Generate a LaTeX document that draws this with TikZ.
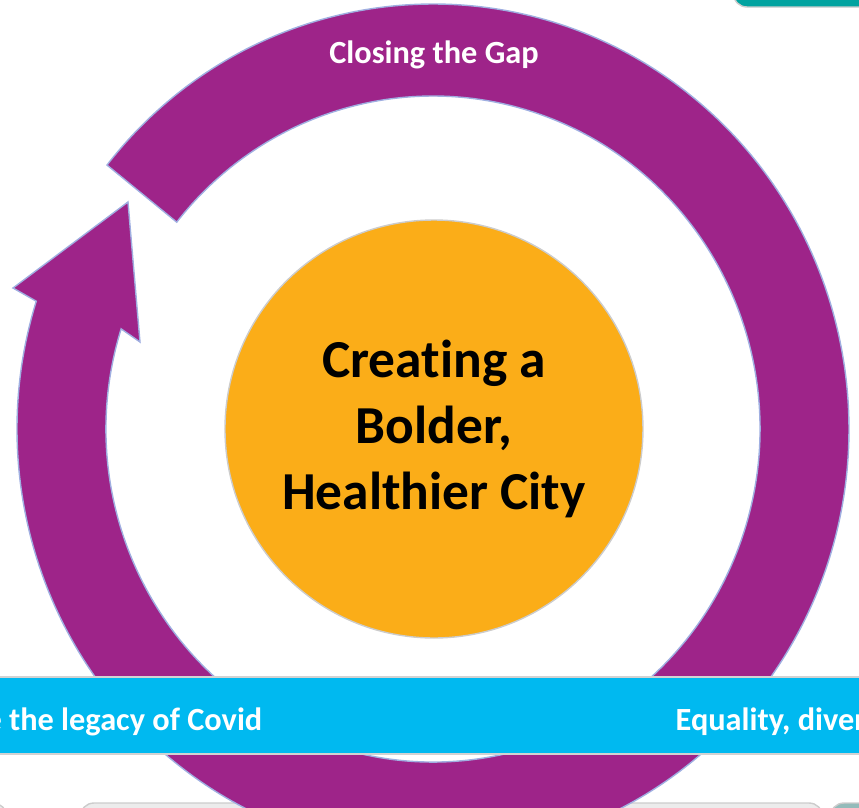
\documentclass[tikz,border=0pt]{standalone}
\usepackage{fontspec}
\setmainfont{Carlito}[Ligatures=NoCommon]

\definecolor{ringpurple}{RGB}{158,36,137}
\definecolor{huborange}{RGB}{251,173,24}
\definecolor{bandcyan}{RGB}{0,185,240}
\definecolor{boxteal}{RGB}{0,163,160}
\definecolor{edgeblue}{RGB}{160,175,225}

\begin{document}
\begin{tikzpicture}[
		labeltext/.style={text=white, font=\bfseries\fontsize{9.2}{10}\selectfont, inner sep=0pt},
		peekbox/.style={rounded corners=4pt, draw=gray!40, line width=.4pt}]
	\clip (-4.33, -3.78) rectangle (4.26, 4.29);
	
	% boxes peeking in at the corners
	\draw[peekbox, fill=boxteal] (3.00, 4.22) rectangle (4.70, 4.90);
	\draw[peekbox, fill=gray!15] (-5.00, -3.74) rectangle (-4.26, -4.40);
	\draw[peekbox, fill=gray!15] (-3.53, -3.74) rectangle (3.90, -4.40);
	\draw[peekbox, fill=boxteal!40!gray!60] (3.97, -3.74) rectangle (5.00, -4.40);
	
	% circular arrow
	\draw[fill=ringpurple, draw=edgeblue, line width=.4pt]
		(141.6:4.16 and 4.25) arc[start angle=141.6, end angle=-197.5, x radius=4.16, y radius=4.25]
		-- (-4.20, 1.41) -- (-3.05, 2.27) -- (-2.93, .87)
		-- (-197.5:3.27 and 3.33) arc[start angle=-197.5, end angle=141.6, x radius=3.27, y radius=3.33]
		-- cycle;
	\node[labeltext, anchor=base] (gap) at (.01, 3.66) {Closing the Gap};
	
	% centre
	\node[circle, fill=huborange, draw=gray!40, line width=.4pt, minimum size=4.18cm, inner sep=0pt,
		align=center, font=\bfseries\fontsize{15.2}{18.8}\selectfont] (city) at (.01, 0)
		{Creating a\\Bolder,\\Healthier City};
	
	% band across the bottom
	\draw[fill=bandcyan, draw=gray!35, line width=.6pt] (-4.60, -2.48) rectangle (4.60, -3.25);
	\node[labeltext, anchor=base east] (covid) at (-1.70, -3.01) {e the legacy of Covid};
	\node[labeltext, anchor=base west] (equality) at (2.42, -3.01) {Equality, diver};
\end{tikzpicture}
\end{document}
